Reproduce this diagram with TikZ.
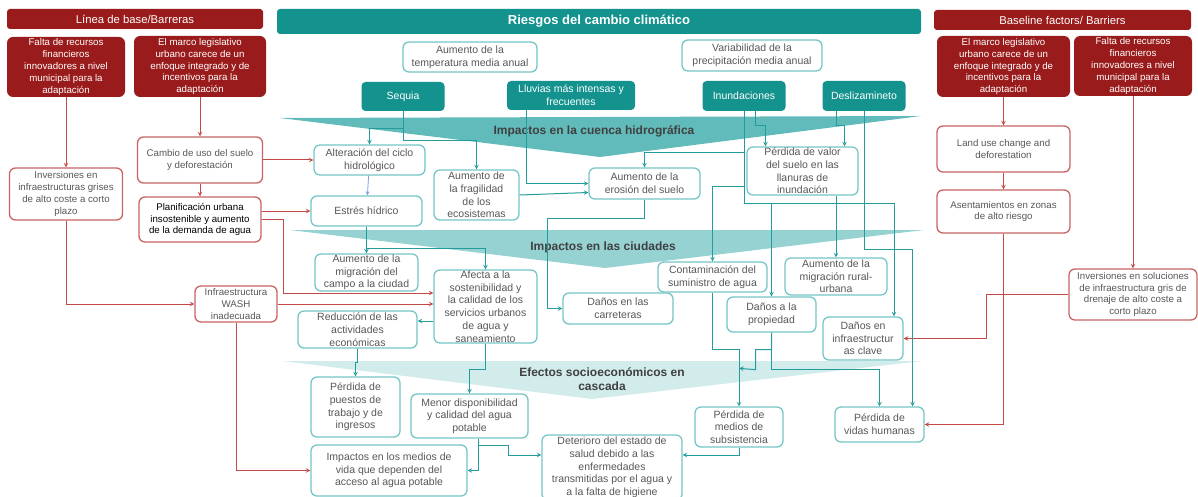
\documentclass[tikz,border=0pt]{standalone}
\usepackage{fontspec}
\setmainfont{Liberation Sans}
\usepackage{tikz}
\usetikzlibrary{shapes,
                arrows,
                calc,
                positioning}
\definecolor{clrbarrier}{RGB}{154,27,27}
\definecolor{clrredbox}{RGB}{200,100,100}
\definecolor{clrredline}{RGB}{196,74,72}
\definecolor{clrteal}{RGB}{19,146,142}
\definecolor{clrtealbox}{RGB}{118,198,198}
\definecolor{clrtealline}{RGB}{36,156,156}
\definecolor{clrbandA}{RGB}{98,187,187}
\definecolor{clrbandB}{RGB}{150,210,210}
\definecolor{clrbandC}{RGB}{210,235,235}
\definecolor{clrboxtext}{RGB}{88,88,88}
\definecolor{clrbandtext}{RGB}{64,64,64}
\definecolor{clrblueline}{RGB}{120,160,230}
\newcommand{\redboxfont}{\fontsize{9.7}{11.8}\selectfont}
\newcommand{\tealboxfont}{\fontsize{10.5}{12.7}\selectfont}
\tikzstyle{header} = [rectangle, rounded corners=3pt, text=white, font=\fontsize{11.3}{13}\selectfont, inner sep=1pt]
\tikzstyle{barrier} = [rectangle, rounded corners=6pt, fill=clrbarrier, text=white, align=center, font=\redboxfont, inner sep=1pt]
\tikzstyle{redbox} = [rectangle, rounded corners=6pt, draw=clrredbox, line width=1.3pt, fill=white, text=clrboxtext, align=center, font=\redboxfont, inner sep=1pt]
\tikzstyle{riskfill} = [rectangle, rounded corners=4pt, fill=clrteal, text=white, align=center, font=\tealboxfont, inner sep=1pt]
\tikzstyle{riskbox} = [rectangle, rounded corners=6pt, draw=clrtealbox, line width=1.3pt, fill=white, text=clrboxtext, align=center, font=\tealboxfont, inner sep=0.5pt]
\tikzstyle{bandlabel} = [text=clrbandtext, font=\fontsize{12}{14}\selectfont\bfseries, align=center]
\tikzstyle{redarrow} = [clrredline, line width=1pt, ->, >=stealth]
\tikzstyle{tealarrow} = [clrtealline, line width=1pt, ->, >=stealth]
\tikzstyle{blueflow} = [clrblueline, line width=0.8pt, ->, >=stealth]

\begin{document}
\begin{tikzpicture}[x=1pt, y=-1pt]
        \useasboundingbox (0,0) rectangle (1198,497);
        % bandas
        \fill [clrbandA] (280,118) -- (921,116) -- (600,157) -- cycle;
        \fill [clrbandB] (290,230) -- (924,230) -- (605,268) -- cycle;
        \fill [clrbandC] (282,361) -- (922,361) -- (592,399) -- cycle;
        \node (cuenca) [bandlabel] at (594,131) {Impactos en la cuenca hidrográfica};
        \node (ciudades) [bandlabel] at (603,247) {Impactos en las ciudades};
        \node (cascada) [bandlabel] at (602,379) {Efectos socioeconómicos en\\cascada};
        % cabeceras
        \node (lineabase) [header, fill=clrbarrier, minimum width=256, minimum height=20] at (135,19) {Línea de base/Barreras};
        \node (riesgos) [header, fill=clrteal, minimum width=644, minimum height=25, font=\fontsize{13}{15}\selectfont\bfseries] at (599,21.5) {Riesgos del cambio climático};
        \node (baseline) [header, fill=clrbarrier, minimum width=257, minimum height=20] at (1062.5,20) {Baseline factors/ Barriers};
        % barreras
        \node (finL) [barrier, minimum width=118, minimum height=60] at (66,67) {Falta de recursos\\financieros\\innovadores a nivel\\municipal para la\\adaptación};
        \node (marcoL) [barrier, minimum width=132, minimum height=61] at (200,66.5) {El marco legislativo\\urbano carece de un\\enfoque integrado y de\\incentivos para la\\adaptación};
        \node (marcoR) [barrier, minimum width=133, minimum height=61] at (1003.5,66.5) {El marco legislativo\\urbano carece de un\\enfoque integrado y de\\incentivos para la\\adaptación};
        \node (finR) [barrier, minimum width=118, minimum height=60] at (1133,66) {Falta de recursos\\financieros\\innovadores a nivel\\municipal para la\\adaptación};
        % riesgos
        \node (temp) [riskbox, minimum width=134, minimum height=30] at (470,57) {Aumento de la\\temperatura media anual};
        \node (precip) [riskbox, minimum width=140, minimum height=31] at (752,55.5) {Variabilidad de la\\precipitación media anual};
        \node (sequia) [riskfill, minimum width=83, minimum height=29] at (403,96.5) {Sequia};
        \node (lluvias) [riskfill, minimum width=128, minimum height=29] at (571,95.5) {Lluvias más intensas y\\frecuentes};
        \node (inund) [riskfill, minimum width=83, minimum height=30] at (744,96) {Inundaciones};
        \node (desliz) [riskfill, minimum width=83, minimum height=30] at (864,96) {Deslizamineto};
        % factores
        \node (invL) [redbox, minimum width=113, minimum height=52] at (66,194) {Inversiones en\\infraestructuras grises\\de alto coste a corto\\plazo};
        \node (cambio) [redbox, minimum width=125, minimum height=46] at (200,160) {Cambio de uso del suelo\\y deforestación};
        \node (planif) [redbox, minimum width=122, minimum height=45, text=black] at (200,219.5) {Planificación urbana\\insostenible y aumento\\de la demanda de agua};
        \node (wash) [redbox, minimum width=82, minimum height=36] at (236,304) {Infraestructura\\WASH\\inadecuada};
        \node (landuse) [redbox, minimum width=133, minimum height=46] at (1003.5,149) {Land use change and\\deforestation};
        \node (asent) [redbox, minimum width=133, minimum height=43] at (1003.5,211.5) {Asentamientos en zonas\\de alto riesgo};
        \node (invR) [redbox, minimum width=128, minimum height=51] at (1133,294.5) {Inversiones en soluciones\\de infraestructura gris de\\drenaje de alto coste a\\corto plazo};
        % impactos
        \node (alter) [riskbox, minimum width=111, minimum height=30] at (369.5,160) {Alteración del ciclo\\hidrológico};
        \node (fragil) [riskbox, minimum width=85, minimum height=50] at (476.5,195) {Aumento de\\la fragilidad\\de los\\ecosistemas};
        \node (erosion) [riskbox, minimum width=111, minimum height=31] at (644.5,183.5) {Aumento de la\\erosión del suelo};
        \node (valor) [riskbox, minimum width=111, minimum height=48] at (802.5,171) {Pérdida de valor\\del suelo en las\\llanuras de\\inundación};
        \node (estres) [riskbox, minimum width=111, minimum height=30] at (366.5,211) {Estrés hídrico};
        \node (migcampo) [riskbox, minimum width=103, minimum height=37] at (366.5,272.5) {Aumento de la\\migración del\\campo a la ciudad};
        \node (afecta) [riskbox, minimum width=103, minimum height=73] at (485.5,306.5) {Afecta a la\\sostenibilidad y\\la calidad de los\\servicios urbanos\\de agua y\\saneamiento};
        \node (carret) [riskbox, minimum width=110, minimum height=31] at (618,308.5) {Daños en las\\carreteras};
        \node (contam) [riskbox, minimum width=109, minimum height=30] at (712.5,277) {Contaminación del\\suministro de agua};
        \node (migrural) [riskbox, minimum width=102, minimum height=37] at (836,276.5) {Aumento de la\\migración rural-\\urbana};
        \node (propiedad) [riskbox, minimum width=89, minimum height=35] at (771.5,314.5) {Daños a la\\propiedad};
        \node (infra) [riskbox, minimum width=80, minimum height=43] at (863,338.5) {Daños en\\infraestructur\\as clave};
        \node (reduc) [riskbox, minimum width=119, minimum height=37] at (357.5,329.5) {Reducción de las\\actividades\\económicas};
        \node (puestos) [riskbox, minimum width=89, minimum height=60] at (355.5,407) {Pérdida de\\puestos de\\trabajo y de\\ingresos};
        \node (menor) [riskbox, minimum width=117, minimum height=44] at (469.5,416) {Menor disponibilidad\\y calidad del agua\\potable};
        \node (medios) [riskbox, minimum width=88, minimum height=40] at (739,427) {Pérdida de\\medios de\\subsistencia};
        \node (vidas) [riskbox, minimum width=89, minimum height=35] at (879.5,424.5) {Pérdida de\\vidas humanas};
        \node (impactos) [riskbox, minimum width=156, minimum height=51] at (389,470.5) {Impactos en los medios de\\vida que dependen del\\acceso al agua potable};
        \node (deterioro) [riskbox, minimum width=140, minimum height=65] at (612,467.5) {Deterioro del estado de\\salud debido a las\\enfermedades\\transmitidas por el agua y\\a la falta de higiene};
        \coordinate (afN) at ($(afecta.west)+(0,-13.5)$);
        \coordinate (afW) at ($(afecta.west)+(0,14.5)$);
        \coordinate (erW) at ($(erosion.west)+(0,9)$);
        \coordinate (detW) at ($(deterioro.west)+(0,-12.5)$);
        \coordinate (detE) at ($(deterioro.east)+(0,-12.5)$);
        \coordinate (jn) at ($(medios.north)+(0,-38)$);
        % flechas rojas
        \draw [redarrow] (finL) -- (invL);
        \draw [redarrow] (marcoL) -- (cambio);
        \draw [redarrow] (cambio) -- (planif);
        \draw [redarrow] (cambio) -- (alter);
        \draw [redarrow] (planif.east |- estres.west) -- (estres.west);
        \draw [redarrow] (planif.east) -- ++(22,0) |- (afN);
        \draw [redarrow] (invL) |- (wash);
        \draw [redarrow] (wash) -- (wash -| afecta.west);
        \draw [redarrow] (wash) |- (impactos);
        \draw [redarrow] (marcoR) -- (landuse);
        \draw [redarrow] (landuse) -- (asent);
        \draw [redarrow] (asent) |- (vidas);
        \draw [redarrow] (finR) -- (invR);
        \draw [redarrow] (invR.west) -- ++(-82,0) |- (infra);
        % flechas turquesa
        \draw [tealarrow] (sequia.south) -- ++(0,17) -| (alter.north);
        \draw [tealarrow] (sequia.south) -- ++(0,29) -| (fragil.north);
        \draw [tealarrow] ([xshift=-45pt]lluvias.south) |- (erosion.west);
        \draw [tealarrow] (fragil.east) -- (erW);
        \draw [tealarrow] ([xshift=11pt]inund.south) -- ++(0,14) -| ([xshift=-37pt]valor.north);
        \draw [tealarrow] (inund.south) -- ++(0,41) -| (erosion.north);
        \draw [tealarrow] (inund.south) -- ++(0,75) -| (contam.north);
        \draw [tealarrow] (inund.south) -- ++(0,92) -| (propiedad.north);
        \draw [tealarrow] (inund.south) -- ++(0,92) -| ([xshift=31pt]infra.north);
        \draw [tealarrow] ([xshift=-28pt]desliz.south) -- ++(0,14) -| ([xshift=42pt]valor.north);
        \draw [tealarrow] (desliz.south) -- ++(0,138) -| ([xshift=33pt]vidas.north);
        \draw [tealarrow] (valor.south -| migrural.north) -- (migrural.north);
        \draw [tealarrow] (erosion.south) -- ++(0,19) -| ($(carret.west)+(-15,0)$) -- (carret.west);
        \draw [blueflow] (alter) -- (estres);
        \draw [tealarrow] (estres) -- (migcampo);
        \draw [tealarrow] (estres.south) -- ++(0,22) -| (afecta.north);
        \draw [tealarrow] (afW) -- (afW -| reduc.east);
        \draw [tealarrow] (reduc.south) -- ++(0,14) -| (puestos.north);
        \draw [tealarrow] (afecta.south) -- ++(0,26) -| (menor.north);
        \draw [tealarrow] ([xshift=8.5pt]menor.south) |- (impactos.east);
        \draw [tealarrow] ([xshift=8.5pt]menor.south) -- ++(0,7) -| ($(detW)+(-33,0)$) -- (detW);
        \draw [tealarrow] (contam.south) -- ++(0,57) -| (medios.north);
        \draw [tealarrow] (propiedad.south) -- ++(0,17) -| ++(-16,20) -- (jn);
        \draw [tealarrow] (propiedad.south) -- ++(0,37) -| (vidas.north);
        \draw [tealarrow] (medios.south) |- (detE);
        %
\end{tikzpicture}
\end{document}
